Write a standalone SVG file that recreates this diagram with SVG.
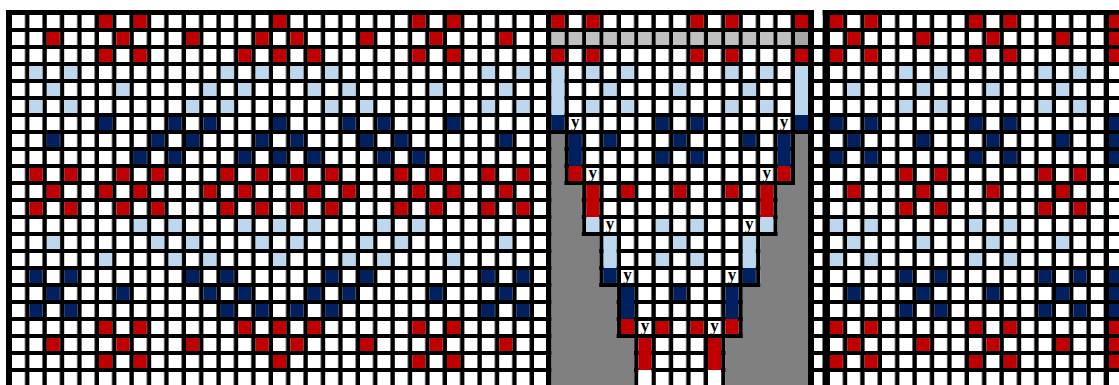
<svg xmlns="http://www.w3.org/2000/svg" xmlns:xlink="http://www.w3.org/1999/xlink" width="1119" height="385" viewBox="0 0 1119 385">
<style>
.r{fill:#c00000}.lb{fill:#bdd7ee}.db{fill:#002060}.w{fill:#fff}.g1{fill:#c0c0c0}.g2{fill:#a6a6a6}.gr{fill:#808080}.k{fill:#000}
.y{font-family:"Liberation Serif","Times New Roman",serif;font-weight:bold;font-size:17px;fill:#000;text-anchor:middle}
</style>
<defs>
<pattern id="grid" patternUnits="userSpaceOnUse" x="12" y="15" width="17.4" height="17"><rect width="13" height="13" fill="#fff"/></pattern>
<rect id="c" width="13" height="13"/>
<g id="L0"><use href="#c" x="99"/><use href="#c" x="133.8"/><use href="#c" x="273"/><use href="#c" x="412.2"/><use href="#c" x="447"/></g>
<g id="L1"><use href="#c" x="46.8"/><use href="#c" x="116.4"/><use href="#c" x="186"/><use href="#c" x="255.6"/><use href="#c" x="290.4"/><use href="#c" x="360"/><use href="#c" x="429.6"/><use href="#c" x="499.2"/></g>
<g id="L2"><use href="#c" x="99"/><use href="#c" x="133.8"/><use href="#c" x="238.2"/><use href="#c" x="273"/><use href="#c" x="307.8"/><use href="#c" x="412.2"/><use href="#c" x="447"/></g>
<g id="L3"><use href="#c" x="29.4"/><use href="#c" x="64.2"/><use href="#c" x="220.8"/><use href="#c" x="255.6"/><use href="#c" x="290.4"/><use href="#c" x="325.2"/><use href="#c" x="481.8"/><use href="#c" x="516.6"/></g>
<g id="L4"><use href="#c" x="46.8"/><use href="#c" x="116.4"/><use href="#c" x="203.4"/><use href="#c" x="238.2"/><use href="#c" x="307.8"/><use href="#c" x="342.6"/><use href="#c" x="429.6"/><use href="#c" x="499.2"/></g>
<g id="L5"><use href="#c" x="29.4"/><use href="#c" x="64.2"/><use href="#c" x="186"/><use href="#c" x="220.8"/><use href="#c" x="325.2"/><use href="#c" x="360"/><use href="#c" x="481.8"/><use href="#c" x="516.6"/></g>
<g id="L6"><use href="#c" x="99"/><use href="#c" x="168.6"/><use href="#c" x="203.4"/><use href="#c" x="273"/><use href="#c" x="342.6"/><use href="#c" x="377.4"/><use href="#c" x="447"/></g>
<g id="L7"><use href="#c" x="46.8"/><use href="#c" x="151.2"/><use href="#c" x="186"/><use href="#c" x="255.6"/><use href="#c" x="290.4"/><use href="#c" x="360"/><use href="#c" x="394.8"/><use href="#c" x="499.2"/></g>
<g id="L8"><use href="#c" x="133.8"/><use href="#c" x="168.6"/><use href="#c" x="238.2"/><use href="#c" x="273"/><use href="#c" x="307.8"/><use href="#c" x="377.4"/><use href="#c" x="412.2"/></g>
<g id="L9"><use href="#c" x="29.4"/><use href="#c" x="64.2"/><use href="#c" x="116.4"/><use href="#c" x="151.2"/><use href="#c" x="220.8"/><use href="#c" x="255.6"/><use href="#c" x="290.4"/><use href="#c" x="325.2"/><use href="#c" x="394.8"/><use href="#c" x="429.6"/><use href="#c" x="481.8"/><use href="#c" x="516.6"/></g>
<g id="L10"><use href="#c" x="46.8"/><use href="#c" x="99"/><use href="#c" x="133.8"/><use href="#c" x="203.4"/><use href="#c" x="238.2"/><use href="#c" x="307.8"/><use href="#c" x="342.6"/><use href="#c" x="412.2"/><use href="#c" x="447"/><use href="#c" x="499.2"/></g>
<g id="RA"><use href="#c" x="829.8"/><use href="#c" x="864.6"/><use href="#c" x="969"/><use href="#c" x="1003.8"/></g>
<g id="RM"><use href="#c" x="847.2"/><use href="#c" x="916.8"/><use href="#c" x="986.4"/><use href="#c" x="1056"/></g>
<g id="RB"><use href="#c" x="899.4"/><use href="#c" x="934.2"/><use href="#c" x="1038.6"/><use href="#c" x="1073.4"/></g>
</defs>

<rect width="1119" height="385" fill="#fff"/>
<rect x="6" y="10" width="1113" height="375" fill="#000"/>
<rect x="12" y="15" width="1107" height="370" fill="url(#grid)"/>
<rect class="k" x="546" y="10" width="5.4" height="375"/>
<rect class="k" x="808" y="10" width="6" height="375"/>
<rect class="k" x="822.5" y="10" width="7.3" height="375"/>
<rect class="w" x="814" y="0" width="8.5" height="28"/>

<g id="left-panel">
<use href="#L0" y="15" class="r"/><use href="#L1" y="32" class="r"/><use href="#L2" y="49" class="r"/>
<use href="#L3" y="66" class="lb"/><use href="#L4" y="83" class="lb"/><use href="#L5" y="100" class="lb"/>
<use href="#L6" y="117" class="db"/><use href="#L7" y="134" class="db"/><use href="#L8" y="151" class="db"/>
<use href="#L9" y="168" class="r"/><use href="#L10" y="185" class="r"/><use href="#L9" y="202" class="r"/>
<use href="#L8" y="219" class="lb"/><use href="#L7" y="236" class="lb"/><use href="#L6" y="253" class="lb"/>
<use href="#L5" y="270" class="db"/><use href="#L4" y="287" class="db"/><use href="#L3" y="304" class="db"/>
<use href="#L2" y="321" class="r"/><use href="#L1" y="338" class="r"/><use href="#L0" y="355" class="r"/>
</g>

<g id="middle-panel">
<path class="gr" d="M551.4 134H564.4V185H581.8V236H599.2V287H616.6V338H634V385H551.4Z"/>
<path class="gr" d="M808 134H795V185H777.6V236H760.2V287H742.8V338H725.4V385H808Z"/>
<g class="r">
<use href="#c" x="551.4" y="15"/><use href="#c" x="586.2" y="15"/><use href="#c" x="690.6" y="15"/><use href="#c" x="725.4" y="15"/><use href="#c" x="795" y="15"/>
<use href="#c" x="551.4" y="49"/><use href="#c" x="586.2" y="49"/><use href="#c" x="690.6" y="49"/><use href="#c" x="725.4" y="49"/><use href="#c" x="795" y="49"/>
<use href="#c" x="621" y="185"/><use href="#c" x="673.2" y="185"/><use href="#c" x="725.4" y="185"/>
<use href="#c" x="655.8" y="321"/><use href="#c" x="690.6" y="321"/>
</g>
<g class="g1">
<use href="#c" x="551.4" y="32"/><use href="#c" x="568.8" y="32"/><use href="#c" x="586.2" y="32"/><use href="#c" x="603.6" y="32"/><use href="#c" x="621" y="32"/><use href="#c" x="638.4" y="32"/><use href="#c" x="655.8" y="32"/><use href="#c" x="673.2" y="32"/><use href="#c" x="690.6" y="32"/><use href="#c" x="708" y="32"/><use href="#c" x="725.4" y="32"/><use href="#c" x="742.8" y="32"/><use href="#c" x="760.2" y="32"/><use href="#c" x="777.6" y="32"/>
</g>
<use href="#c" x="795" y="32" class="g2"/>
<g class="lb">
<use href="#c" x="586.2" y="66"/><use href="#c" x="621" y="66"/><use href="#c" x="725.4" y="66"/><use href="#c" x="760.2" y="66"/>
<use href="#c" x="603.6" y="83"/><use href="#c" x="673.2" y="83"/><use href="#c" x="742.8" y="83"/>
<use href="#c" x="586.2" y="100"/><use href="#c" x="621" y="100"/><use href="#c" x="725.4" y="100"/><use href="#c" x="760.2" y="100"/>
<use href="#c" x="655.8" y="219"/><use href="#c" x="690.6" y="219"/>
<use href="#c" x="673.2" y="236"/>
<use href="#c" x="655.8" y="253"/><use href="#c" x="690.6" y="253"/>
</g>
<g class="db">
<use href="#c" x="655.8" y="117"/><use href="#c" x="690.6" y="117"/>
<use href="#c" x="603.6" y="134"/><use href="#c" x="673.2" y="134"/><use href="#c" x="742.8" y="134"/>
<use href="#c" x="655.8" y="151"/><use href="#c" x="690.6" y="151"/>
<use href="#c" x="673.2" y="287"/>
</g>
<g id="cone-edge">
<rect class="lb" x="551.4" y="66" width="13" height="49"/><rect class="db" x="551.4" y="115" width="13" height="15"/>
<rect class="lb" x="795" y="66" width="13" height="49"/><rect class="db" x="795" y="115" width="13" height="15"/>
<rect class="db" x="568.8" y="134" width="13" height="32"/><rect class="r" x="568.8" y="166" width="13" height="15"/>
<rect class="db" x="777.6" y="134" width="13" height="32"/><rect class="r" x="777.6" y="166" width="13" height="15"/>
<rect class="r" x="586.2" y="185" width="13" height="32"/><rect class="lb" x="586.2" y="217" width="13" height="15"/>
<rect class="r" x="760.2" y="185" width="13" height="32"/><rect class="lb" x="760.2" y="217" width="13" height="15"/>
<rect class="lb" x="603.6" y="236" width="13" height="32"/><rect class="db" x="603.6" y="268" width="13" height="15"/>
<rect class="lb" x="742.8" y="236" width="13" height="32"/><rect class="db" x="742.8" y="268" width="13" height="15"/>
<rect class="db" x="621" y="287" width="13" height="32"/><rect class="r" x="621" y="319" width="13" height="15"/>
<rect class="db" x="725.4" y="287" width="13" height="32"/><rect class="r" x="725.4" y="319" width="13" height="15"/>
<rect class="r" x="638.4" y="338" width="13" height="32"/><rect class="w" x="638.4" y="370" width="13" height="15"/>
<rect class="r" x="708" y="338" width="13" height="32"/><rect class="w" x="708" y="370" width="13" height="15"/>
</g>
<g id="labels">
<text class="y" x="575.3" y="126.5">y</text><text class="y" x="784.1" y="126.5">y</text>
<text class="y" x="592.7" y="177.5">y</text><text class="y" x="766.7" y="177.5">y</text>
<text class="y" x="610.1" y="228.5">y</text><text class="y" x="749.3" y="228.5">y</text>
<text class="y" x="627.5" y="279.5">y</text><text class="y" x="731.9" y="279.5">y</text>
<text class="y" x="644.9" y="330.5">y</text><text class="y" x="714.5" y="330.5">y</text>
</g>
</g>

<g id="right-panel">
<use href="#RA" y="15" class="r"/><use href="#RM" y="32" class="r"/><use href="#RA" y="49" class="r"/>
<use href="#RB" y="66" class="lb"/><use href="#RM" y="83" class="lb"/><use href="#RB" y="100" class="lb"/>
<use href="#RA" y="117" class="db"/><use href="#RM" y="134" class="db"/><use href="#RA" y="151" class="db"/>
<use href="#RB" y="168" class="r"/><use href="#RM" y="185" class="r"/><use href="#RB" y="202" class="r"/>
<use href="#RA" y="219" class="lb"/><use href="#RM" y="236" class="lb"/><use href="#RA" y="253" class="lb"/>
<use href="#RB" y="270" class="db"/><use href="#RM" y="287" class="db"/><use href="#RB" y="304" class="db"/>
<use href="#RA" y="321" class="r"/><use href="#RM" y="338" class="r"/><use href="#RA" y="355" class="r"/>
<rect class="k" x="1104" y="10" width="5" height="375"/>
<g class="r"><use href="#c" x="1109" y="15"/><use href="#c" x="1109" y="32"/><use href="#c" x="1109" y="49"/><use href="#c" x="1109" y="321"/><use href="#c" x="1109" y="338"/><use href="#c" x="1109" y="355"/></g>
<g class="db"><use href="#c" x="1109" y="117"/><use href="#c" x="1109" y="134"/><use href="#c" x="1109" y="151"/><use href="#c" x="1109" y="270"/><use href="#c" x="1109" y="287"/><use href="#c" x="1109" y="304"/></g>
</g>
</svg>
